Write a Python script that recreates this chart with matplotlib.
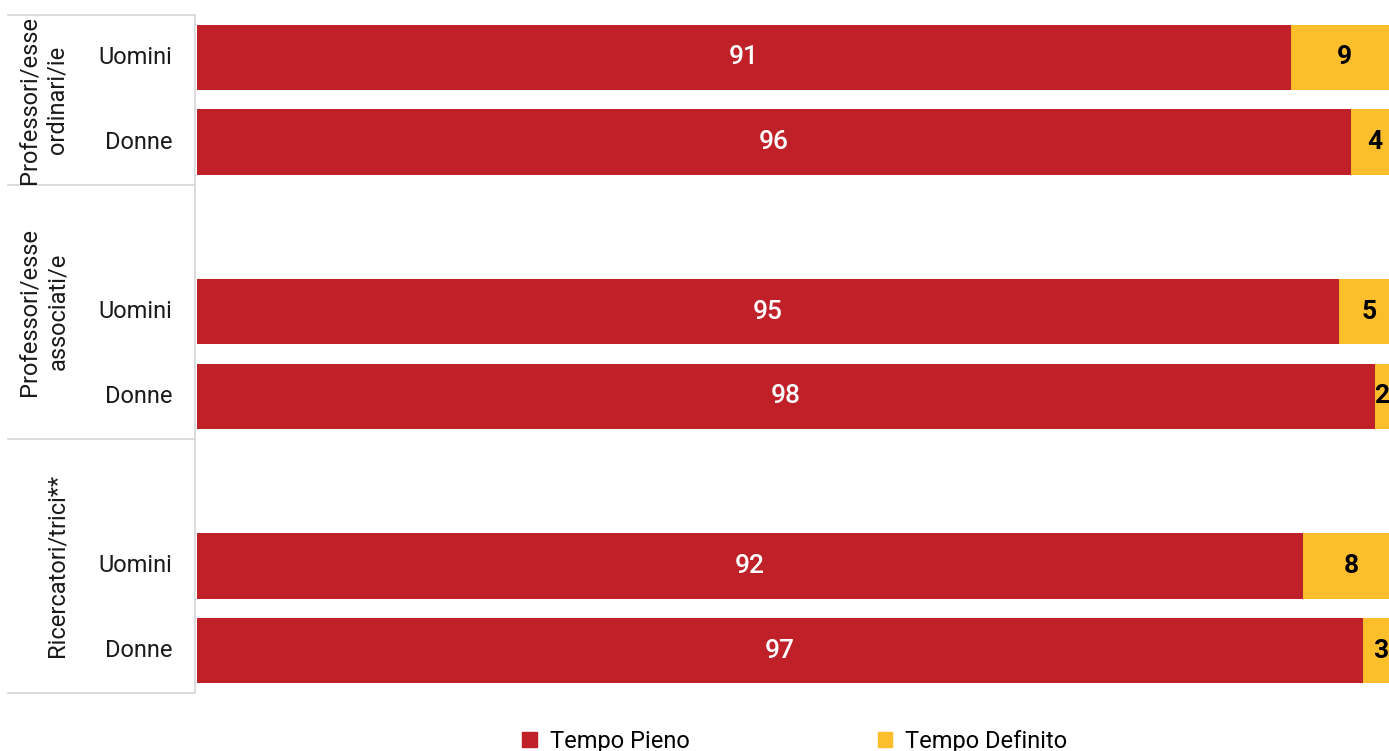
import numpy as np
import matplotlib
matplotlib.use("Agg")
import matplotlib.pyplot as plt
from matplotlib.patches import Patch

plt.rcParams["font.family"] = ["Roboto", "DejaVu Sans"]

#### data
groups = ["Professori/esse\nordinari/ie", "Professori/esse\nassociati/e", "Ricercatori/trici**"]
genders = ["Uomini", "Donne"]
## one row per bar, top to bottom
row_group = [0, 0, 1, 1, 2, 2]
row_gender = [0, 1, 0, 1, 0, 1]
tempo_pieno = [91, 96, 95, 98, 92, 97]
tempo_definito = [9, 4, 5, 2, 8, 3]
series_names = ["Tempo Pieno", "Tempo Definito"]

red = "#C02027"
yellow = "#FDBE2C"
line_col = "#D9D9D9"

## slot positions: groups 2 and 3 have an empty slot on top
slots = [0, 1, 3, 4, 6, 7]
group_span = [(-0.5, 1.5), (1.5, 4.5), (4.5, 7.5)]

W, H = 1389, 751
fig = plt.figure(figsize=(W / 100, H / 100), dpi=100)
## the plot area runs a bit past the right edge of the picture
ax_w = 1202
ax = fig.add_axes([197 / W, 1 - 693 / H, ax_w / W, (693 - 15) / H])

bar_h = 0.77
ax.barh(slots, tempo_pieno, height=bar_h, color=red)
ax.barh(slots, tempo_definito, left=tempo_pieno, height=bar_h, color=yellow)

## value labels (small ones pushed back so they stay in the picture)
x_max_label = 98.6
for y, p, d in zip(slots, tempo_pieno, tempo_definito):
    ax.text(p / 2, y, str(p), ha="center", va="center", color="white",
            fontsize=19, fontweight="medium")
    ax.text(min(p + d / 2, x_max_label), y, str(d), ha="center", va="center",
            color="black", fontsize=19, fontweight="bold", clip_on=False)

ax.set_xlim(0, 100)
ax.set_ylim(7.5, -0.5)
ax.axis("off")

## hierarchical y axis drawn by hand
tr = ax.get_yaxis_transform()  # x in axes coords, y in data
def px(x):
    return (x - 197) / ax_w

bounds = sorted(set([b for span in group_span for b in span]))
for b in bounds:
    ax.plot([px(8), px(195)], [b, b], transform=tr, color=line_col, lw=1.3, clip_on=False)
ax.plot([px(195), px(195)], [-0.5, 7.5], transform=tr, color=line_col, lw=1.3, clip_on=False)

for y, gi in zip(slots, row_gender):
    ax.text(px(172), y, genders[gi], transform=tr, ha="right", va="center",
            fontsize=17, color="#1a1a1a", clip_on=False)

for gi, (lo, hi) in enumerate(group_span):
    ax.text(px(69), (lo + hi) / 2, groups[gi], transform=tr, ha="right", va="center",
            rotation=90, multialignment="center", fontsize=17, color="#1a1a1a",
            linespacing=1.3, clip_on=False)

## legend at the bottom
handles = [Patch(color=red, label=series_names[0]), Patch(color=yellow, label=series_names[1])]
fig.legend(handles=handles, loc="center", bbox_to_anchor=(795 / W, 0.013), ncol=2,
           frameon=False, fontsize=17, handlelength=0.6, handleheight=0.6,
           handletextpad=0.55, columnspacing=8, borderpad=0)

plt.savefig("out.png", dpi=100)
